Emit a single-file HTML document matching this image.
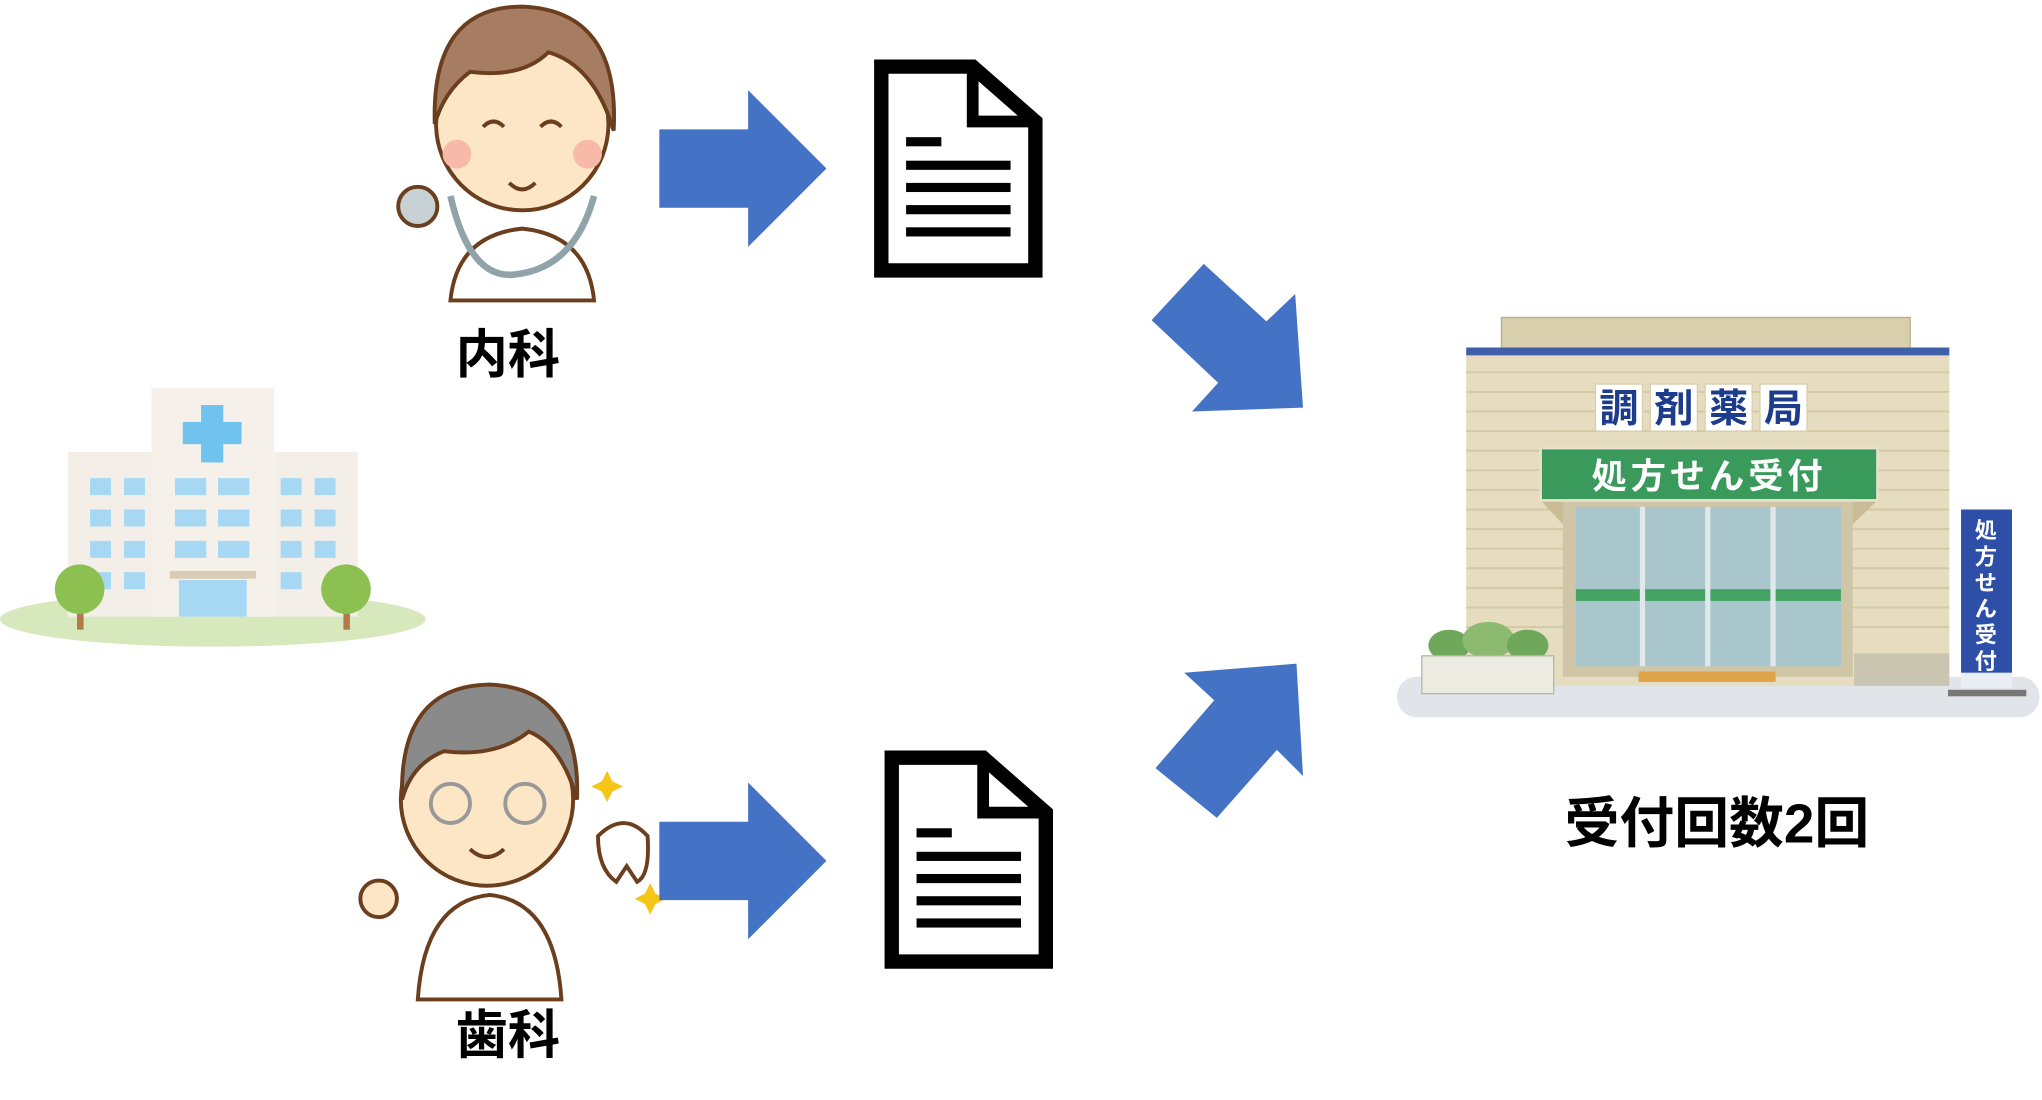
<!DOCTYPE html>
<html><head><meta charset="utf-8"><style>
html,body{margin:0;padding:0;background:#fff;}
svg{display:block}
text{font-family:"Liberation Sans","Noto Sans CJK JP",sans-serif}
</style></head><body>
<svg width="2042" height="1100" viewBox="0 0 1564 842" preserveAspectRatio="none" xmlns="http://www.w3.org/2000/svg">
<ellipse cx="163" cy="474" rx="163" ry="21" fill="#d7e8bd"/>
<rect x="52" y="346" width="222" height="126" fill="#f3efe8"/>
<rect x="116" y="297" width="94" height="175" fill="#f5f1ea"/>
<rect x="154" y="310" width="17" height="44" fill="#6fc3ee"/>
<rect x="140" y="323" width="45" height="17" fill="#6fc3ee"/>
<g fill="#a6d8f3">
<rect x="69" y="366" width="16" height="13"/><rect x="95" y="366" width="16" height="13"/>
<rect x="69" y="390" width="16" height="13"/><rect x="95" y="390" width="16" height="13"/>
<rect x="69" y="414" width="16" height="13"/><rect x="95" y="414" width="16" height="13"/>
<rect x="69" y="438" width="16" height="13"/><rect x="95" y="438" width="16" height="13"/>
<rect x="215" y="366" width="16" height="13"/><rect x="241" y="366" width="16" height="13"/>
<rect x="215" y="390" width="16" height="13"/><rect x="241" y="390" width="16" height="13"/>
<rect x="215" y="414" width="16" height="13"/><rect x="241" y="414" width="16" height="13"/>
<rect x="215" y="438" width="16" height="13"/>
<rect x="134" y="366" width="24" height="13"/><rect x="167" y="366" width="24" height="13"/>
<rect x="134" y="390" width="24" height="13"/><rect x="167" y="390" width="24" height="13"/>
<rect x="134" y="414" width="24" height="13"/><rect x="167" y="414" width="24" height="13"/>
<rect x="137" y="444" width="52" height="28"/>
</g>
<rect x="130" y="437" width="66" height="6" fill="#d9cbb5"/>
<rect x="59" y="452" width="5" height="30" fill="#b07a4a"/><circle cx="61" cy="451" r="19" fill="#8cc152"/>
<rect x="263" y="452" width="5" height="30" fill="#b07a4a"/><circle cx="265" cy="451" r="19" fill="#8cc152"/>

<path d="M345 230 Q350 180 400 175 Q450 180 455 230 Z" fill="#fff" stroke="#6b3e1e" stroke-width="3"/>
<circle cx="400" cy="95" r="66" fill="#fde6c6" stroke="#6b3e1e" stroke-width="3"/>
<path d="M333 95 Q330 5 400 5 Q475 8 470 100 Q455 50 420 40 Q400 60 360 55 Q340 70 333 95Z" fill="#a67c62" stroke="#6b3e1e" stroke-width="3"/>
<circle cx="350" cy="118" r="11" fill="#f8b9a8"/><circle cx="450" cy="118" r="11" fill="#f8b9a8"/>
<path d="M370 97 q8 -8 16 0 M414 97 q8 -8 16 0 M390 140 q10 10 20 0" stroke="#6b3e1e" stroke-width="3" fill="none"/>
<path d="M345 150 Q360 215 395 210 Q440 205 455 150" stroke="#8fa3a8" stroke-width="5" fill="none"/>
<circle cx="320" cy="158" r="15" fill="#c8d2d4" stroke="#6b3e1e" stroke-width="3"/>
<path d="M320 765 Q325 690 375 685 Q425 690 430 765 Z" fill="#fff" stroke="#6b3e1e" stroke-width="3"/>
<circle cx="373" cy="612" r="66" fill="#fde6c6" stroke="#6b3e1e" stroke-width="3"/>
<path d="M308 612 Q305 525 375 524 Q445 527 442 612 Q430 570 405 560 Q380 580 340 575 Q315 585 308 612Z" fill="#8a8a8a" stroke="#6b3e1e" stroke-width="3"/>
<circle cx="345" cy="615" r="15" fill="none" stroke="#999" stroke-width="3"/><circle cx="402" cy="615" r="15" fill="none" stroke="#999" stroke-width="3"/>
<path d="M360 650 q13 12 26 0" stroke="#6b3e1e" stroke-width="3" fill="none"/>
<path d="M458 640 q20 -20 38 0 q2 30 -8 35 l-8 -12 l-8 12 q-14 -10 -14 -35z" fill="#fff" stroke="#6b3e1e" stroke-width="3"/>
<path d="M465 590 l4 8 8 4 -8 4 -4 8 -4 -8 -8 -4 8 -4z M498 676 l4 8 8 4 -8 4 -4 8 -4 -8 -8 -4 8 -4z" fill="#f5c518"/>
<circle cx="290" cy="688" r="14" fill="#fde6c6" stroke="#6b3e1e" stroke-width="3"/>

<text x="389" y="285" font-size="40" font-weight="bold" text-anchor="middle" fill="#000">内科</text>
<text x="389" y="806" font-size="40" font-weight="bold" text-anchor="middle" fill="#000">歯科</text>
<text x="1315" y="645" font-size="42" font-weight="bold" text-anchor="middle" fill="#000">受付回数2回</text>

<g fill="#4472c4">
<polygon points="505,99 573,99 573,69 633,129 573,189 573,159 505,159"/>
<polygon points="505,629 573,629 573,599 633,659 573,719 573,689 505,689"/>
<polygon points="882,245 922,202 970,246 992,225 998,312 913,315 933,293"/>
<polygon points="885,588 932,626 978,574 998,594 993,508 907,515 930,536"/>
</g>

<g fill="none" stroke="#000" stroke-width="11">
<path d="M675 51 H745 L793 93 V207 H675 Z"/>
<path d="M683 580 H753 L801 622 V736 H683 Z"/>
</g>
<path d="M745 51 V93 H793" fill="none" stroke="#000" stroke-width="9"/>
<path d="M753 580 V622 H801" fill="none" stroke="#000" stroke-width="9"/>
<g fill="#000">
<rect x="694" y="105" width="27" height="7"/>
<rect x="694" y="123" width="80" height="7"/><rect x="694" y="140" width="80" height="7"/>
<rect x="694" y="157" width="80" height="7"/><rect x="694" y="174" width="80" height="7"/>
<rect x="702" y="634" width="27" height="7"/>
<rect x="702" y="652" width="80" height="7"/><rect x="702" y="669" width="80" height="7"/>
<rect x="702" y="686" width="80" height="7"/><rect x="702" y="703" width="80" height="7"/>
</g>

<rect x="1070" y="518" width="492" height="31" rx="15" fill="#e1e4e8"/>
<rect x="1150" y="243" width="313" height="25" fill="#d8cfad" stroke="#b8ae8a"/>
<rect x="1123" y="268" width="370" height="257" fill="#e6dcbf"/>
<g stroke="#d4c8a5" stroke-width="1.5">
<line x1="1123" y1="285" x2="1493" y2="285"/><line x1="1123" y1="300" x2="1493" y2="300"/>
<line x1="1123" y1="315" x2="1493" y2="315"/><line x1="1123" y1="330" x2="1493" y2="330"/>
<line x1="1123" y1="345" x2="1493" y2="345"/><line x1="1123" y1="360" x2="1493" y2="360"/>
<line x1="1123" y1="375" x2="1493" y2="375"/><line x1="1123" y1="390" x2="1493" y2="390"/>
<line x1="1123" y1="405" x2="1493" y2="405"/><line x1="1123" y1="420" x2="1493" y2="420"/>
<line x1="1123" y1="435" x2="1493" y2="435"/><line x1="1123" y1="450" x2="1493" y2="450"/>
<line x1="1123" y1="465" x2="1493" y2="465"/><line x1="1123" y1="480" x2="1493" y2="480"/>
</g>
<rect x="1123" y="266" width="370" height="6" fill="#3f5fa8"/>
<g fill="#fff" stroke="#d8d0b0">
<rect x="1222" y="294" width="36" height="36"/><rect x="1264" y="294" width="36" height="36"/>
<rect x="1306" y="294" width="36" height="36"/><rect x="1348" y="294" width="36" height="36"/>
</g>
<text x="1240" y="323" font-size="30" font-weight="bold" text-anchor="middle" fill="#1d3c8c">調</text>
<text x="1282" y="323" font-size="30" font-weight="bold" text-anchor="middle" fill="#1d3c8c">剤</text>
<text x="1324" y="323" font-size="30" font-weight="bold" text-anchor="middle" fill="#1d3c8c">薬</text>
<text x="1366" y="323" font-size="30" font-weight="bold" text-anchor="middle" fill="#1d3c8c">局</text>
<polygon points="1180,383 1438,383 1410,410 1205,410" fill="#c9bc97"/>
<rect x="1197" y="383" width="222" height="135" fill="#cfc6a8"/>
<rect x="1207" y="388" width="203" height="122" fill="#a8c6cc"/>
<rect x="1207" y="451" width="203" height="9" fill="#45a463"/>
<g stroke="#dfe8ea" stroke-width="4">
<line x1="1258" y1="388" x2="1258" y2="510"/><line x1="1308" y1="388" x2="1308" y2="510"/><line x1="1358" y1="388" x2="1358" y2="510"/>
</g>
<rect x="1255" y="514" width="105" height="8" fill="#e0a54a"/>
<rect x="1180" y="343" width="258" height="40" fill="#3a9a5c" stroke="#e8e2cc" stroke-width="2"/>
<text x="1309" y="374" font-size="27" font-weight="bold" text-anchor="middle" fill="#fff" letter-spacing="3">処方せん受付</text>
<rect x="1502" y="390" width="39" height="125" fill="#2e4fa8"/>
<rect x="1502" y="515" width="39" height="12" fill="#e8eef4"/>
<rect x="1492" y="528" width="60" height="5" fill="#777"/>
<text font-size="17" font-weight="bold" fill="#fff" text-anchor="middle">
<tspan x="1521" y="412">処</tspan><tspan x="1521" y="432">方</tspan><tspan x="1521" y="452">せ</tspan><tspan x="1521" y="472">ん</tspan><tspan x="1521" y="492">受</tspan><tspan x="1521" y="512">付</tspan></text>
<ellipse cx="1110" cy="494" rx="16" ry="12" fill="#6fa85a"/><ellipse cx="1140" cy="490" rx="20" ry="14" fill="#8cba70"/><ellipse cx="1170" cy="494" rx="16" ry="12" fill="#6fa85a"/>
<rect x="1089" y="502" width="101" height="29" fill="#ecebe1" stroke="#b8b6a6"/>
<rect x="1420" y="500" width="73" height="25" fill="#c9c5b0"/>
</svg>
</body></html>
